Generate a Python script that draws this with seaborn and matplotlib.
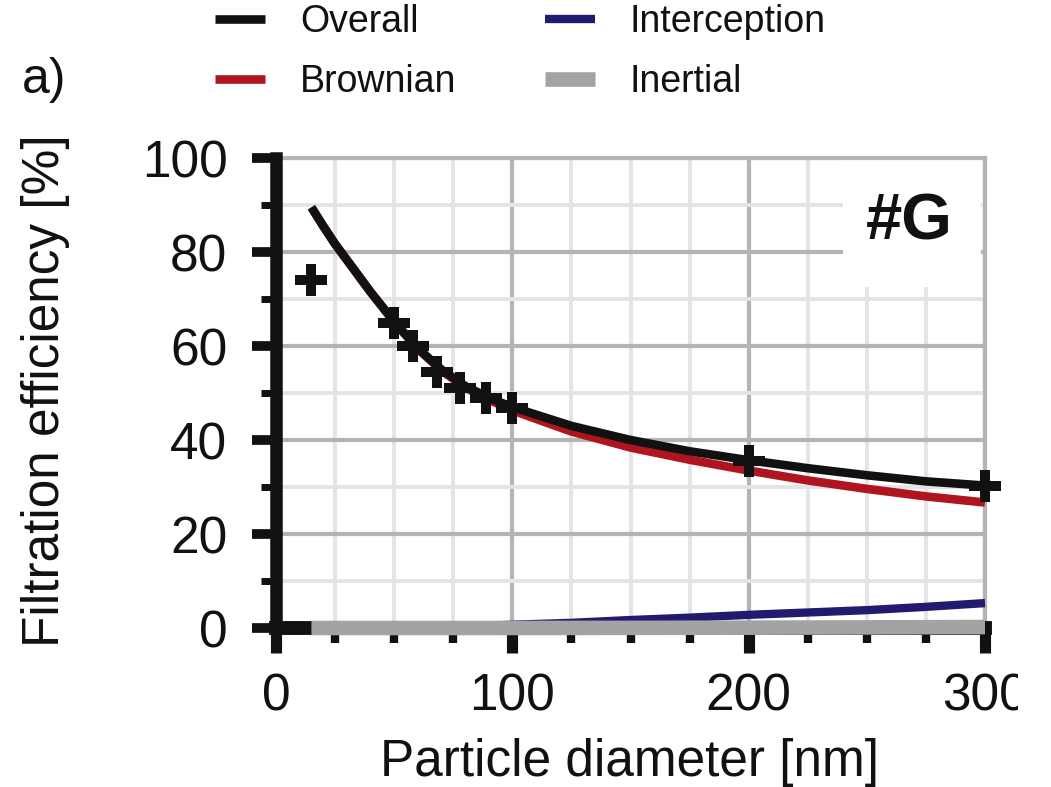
import matplotlib
matplotlib.use("Agg")
import matplotlib.pyplot as plt
from matplotlib.ticker import MultipleLocator
from matplotlib.patches import Rectangle
from matplotlib.transforms import Bbox, TransformedBbox
import numpy as np
import pandas as pd
import seaborn as sns

# ---- data -------------------------------------------------------------
diameter = [15, 20, 25, 30, 40, 50, 60, 70, 80, 90, 100,
            125, 150, 175, 200, 225, 250, 275, 300]
overall = [89.5, 85.5, 81.7, 78.3, 71.5, 65.2, 59.5, 55.0, 51.5, 49.0, 47.0,
           43.0, 40.0, 37.6, 35.7, 34.0, 32.5, 31.2, 30.3]
brownian = [89.5, 85.5, 81.7, 78.3, 71.5, 65.1, 59.4, 54.8, 51.2, 48.6, 46.3,
            41.8, 38.4, 35.8, 33.5, 31.4, 29.6, 28.0, 26.7]
interception = [0.0, 0.0, 0.0, 0.0, 0.05, 0.1, 0.2, 0.3, 0.4, 0.5, 0.7,
                1.1, 1.7, 2.2, 2.8, 3.3, 3.8, 4.5, 5.3]
inertial = [0.0, 0.0, 0.0, 0.0, 0.0, 0.0, 0.0, 0.0, 0.0, 0.0, 0.01,
            0.02, 0.03, 0.05, 0.07, 0.1, 0.13, 0.17, 0.2]

meas_diameter = [15, 50, 58, 68, 78, 89, 100, 200, 300]
meas_efficiency = [74.0, 65.0, 60.0, 54.5, 51.0, 49.0, 46.8, 35.5, 30.2]

mechanisms = ["Overall", "Brownian", "Interception", "Inertial"]
colors = {"Overall": "#111111", "Brownian": "#b0141e",
          "Interception": "#221a6e", "Inertial": "#a3a3a3"}
layer = {"Brownian": 3, "Interception": 3.2, "Inertial": 4, "Overall": 5}
widths = {"Overall": 6.2, "Brownian": 6.2, "Interception": 6.0, "Inertial": 10.5}

# ---- style ------------------------------------------------------------
sns.set_style("white")
plt.rcParams["font.family"] = ["Liberation Sans", "DejaVu Sans"]
for key in ("text.color", "axes.labelcolor", "xtick.color", "ytick.color"):
    plt.rcParams[key] = "#111111"

fig = plt.figure(figsize=(10.51, 7.87), dpi=100)
ax = fig.add_axes([276 / 1051, 159 / 787, 709 / 1051, 470 / 787])

curves = pd.DataFrame({
    "diameter": np.tile(diameter, len(mechanisms)),
    "efficiency": np.concatenate([overall, brownian, interception, inertial]),
    "mechanism": np.repeat(mechanisms, len(diameter)),
})

sns.lineplot(data=curves, x="diameter", y="efficiency", hue="mechanism",
             hue_order=mechanisms, palette=colors, estimator=None, sort=True,
             legend=False, ax=ax)

handles = []
for line, name in zip(ax.lines, mechanisms):
    line.set_linewidth(widths[name])
    line.set_zorder(layer[name])
    line.set_clip_on(False)
    line.set_solid_capstyle("butt")
    handles.append(line)

meas = pd.DataFrame({"diameter": meas_diameter, "efficiency": meas_efficiency})
sns.scatterplot(data=meas, x="diameter", y="efficiency", marker="P", s=560,
                color="#111111", linewidth=0, zorder=6, clip_on=False, ax=ax)

# ---- axes -------------------------------------------------------------
ax.set_xlim(0, 300)
ax.set_ylim(0, 100)
ax.xaxis.set_major_locator(MultipleLocator(100))
ax.xaxis.set_minor_locator(MultipleLocator(25))
ax.yaxis.set_major_locator(MultipleLocator(20))
ax.yaxis.set_minor_locator(MultipleLocator(10))

ax.set_axisbelow(True)
ax.grid(which="major", color="#b4b4b4", linewidth=3.0)
ax.grid(which="minor", color="#e4e4e8", linewidth=2.8)

for side in ("left", "bottom"):
    ax.spines[side].set_color("#111111")
    ax.spines[side].set_zorder(2.6)
ax.spines["left"].set_linewidth(9)
ax.spines["bottom"].set_linewidth(10)
for side in ("top", "right"):
    ax.spines[side].set_color("#b4b4b4")
    ax.spines[side].set_linewidth(3.0)

ax.tick_params(axis="x", which="major", direction="out", length=18, width=8,
               color="#111111", labelcolor="#111111", pad=14, labelsize=37,
               bottom=True)
ax.tick_params(axis="x", which="minor", direction="out", length=11, width=6,
               color="#111111", bottom=True)
ax.tick_params(axis="y", which="major", direction="out", length=17, width=7,
               color="#111111", labelcolor="#111111", pad=18, labelsize=37,
               left=True)
ax.tick_params(axis="y", which="minor", direction="out", length=10.5, width=5,
               color="#111111", left=True)
ax.set_xlabel("")
ax.set_ylabel("")

fig.text(630 / 1051, 1 - 776 / 787, "Particle diameter [nm]", fontsize=37,
         ha="center", va="baseline", color="#111111")
fig.text(46 / 1051, 1 - 391 / 787, "Filtration efficiency [%]", fontsize=37,
         rotation=90, ha="center", va="center", color="#111111")

# panel tag with a white box over the grid
ax.add_patch(Rectangle((0.80, 0.7255), 0.195, 0.27, transform=ax.transAxes,
                       facecolor="white", edgecolor="none", zorder=1.2))
ax.text(0.893, 0.862, "#G", transform=ax.transAxes, fontsize=47,
        fontweight="bold", ha="center", va="center", zorder=7,
        color="#111111")

fig.text(22 / 1051, 1 - 80 / 787, "a)", fontsize=36, ha="left", va="center",
         color="#111111")

fig.legend(handles=handles, labels=mechanisms, ncol=2, loc="upper left",
           bbox_to_anchor=(215 / 1051, 1 - 4 / 787), frameon=False,
           prop={"size": 27}, labelcolor="#111111", handlelength=1.33,
           handletextpad=0.93, columnspacing=2.37, labelspacing=0.64,
           borderpad=0, borderaxespad=0)

# the right-most tick label runs off the figure edge
clip = TransformedBbox(Bbox([[0, 0], [1018 / 1051, 1]]), fig.transFigure)
for lab in ax.get_xticklabels():
    lab.set_clip_on(True)
    lab.set_clip_box(clip)

fig.savefig("out.png", dpi=100)
